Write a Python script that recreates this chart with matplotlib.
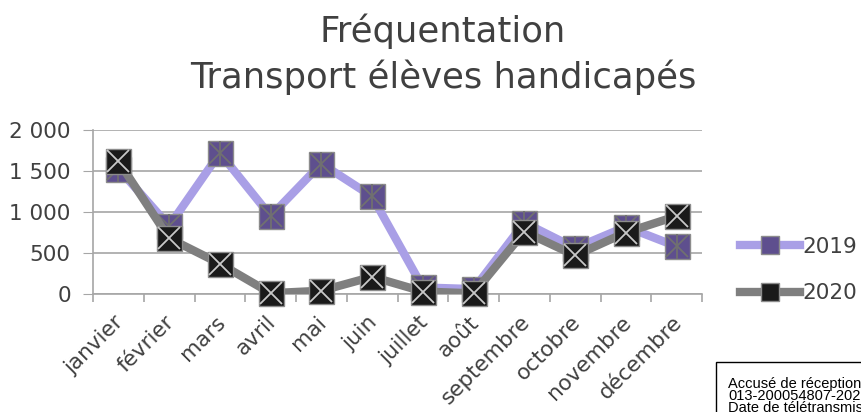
import matplotlib
matplotlib.use('Agg')
import matplotlib.pyplot as plt
import matplotlib.transforms as mtransforms
from matplotlib.lines import Line2D
from matplotlib.patches import Rectangle
import numpy as np

months = ['janvier', 'février', 'mars', 'avril', 'mai', 'juin', 'juillet',
          'août', 'septembre', 'octobre', 'novembre', 'décembre']
v2019 = [1530, 830, 1720, 950, 1590, 1190, 80, 60, 870, 560, 820, 580]
v2020 = [1620, 680, 370, 10, 40, 210, 30, 8, 760, 470, 750, 950]
yticks = [0, 500, 1000, 1500, 2000]
ylabels = ['0', '500', '1 000', '1 500', '2 000']
stamp_lines = ['Accusé de réception en préfecture',
               '013-200054807-20210000-DE',
               'Date de télétransmission']

plt.rcParams['font.family'] = ['DejaVu Sans']
txt = '#404040'
c19_line = '#A99FE6'
c19_mark = '#5E4F8E'
c20_line = '#7F7F7F'
c20_mark = '#1A1A1A'

fig = plt.figure(figsize=(8.61, 4.12), dpi=100)
ax = fig.add_axes([93/861, 1 - 294/412, 609/861, 164/412])

x = np.arange(len(months))


def draw_series(vals, lc, mc, cross_col, star, z):
    ax.plot(x, vals, color=lc, lw=6, solid_capstyle='round', zorder=z)
    ax.plot(x, vals, ls='none', marker='s', ms=18, mfc=mc, mec='#8C8C8C',
            mew=1, zorder=z + 0.1, clip_on=False)
    ax.plot(x, vals, ls='none', marker='x', ms=16, mec=cross_col, mew=1.3,
            zorder=z + 0.2, clip_on=False)
    if star:
        ax.plot(x, vals, ls='none', marker='|', ms=18, mec=cross_col, mew=1.3,
                zorder=z + 0.2, clip_on=False)


draw_series(v2019, c19_line, c19_mark, '#707070', True, 3)
draw_series(v2020, c20_line, c20_mark, '#C8C8C8', False, 4)

ax.set_xlim(-0.5, 11.5)
ax.set_ylim(0, 2000)
ax.set_yticks(yticks)
ax.set_yticklabels(ylabels)
ax.yaxis.grid(True, color='#A6A6A6', lw=1.2)
ax.set_axisbelow(True)
for s in ['top', 'right']:
    ax.spines[s].set_visible(False)
ax.spines['left'].set_color('#A6A6A6')
ax.spines['bottom'].set_color('#A6A6A6')
ax.spines['left'].set_linewidth(1.2)
ax.spines['bottom'].set_linewidth(1.2)
ax.tick_params(axis='y', length=7, color='#A6A6A6', labelsize=15.5,
               labelcolor=txt, pad=9)

ax.set_xticks(np.arange(-0.5, 12, 1), minor=True)
ax.set_xticks(x)
ax.set_xticklabels(months, rotation=45, ha='right', va='top',
                   rotation_mode='anchor', fontsize=15.5, color=txt)
ax.tick_params(axis='x', which='major', length=0, pad=13)
ax.tick_params(axis='x', which='minor', length=6, color='#A6A6A6', width=1.2)
shift = mtransforms.ScaledTranslation(-5/100, 0, fig.dpi_scale_trans)
for lab in ax.get_xticklabels():
    lab.set_transform(lab.get_transform() + shift)

# title, two lines placed by baseline
fig.text(443/861, 1 - 42/412, 'Fréquentation', ha='center', va='baseline',
         fontsize=25.5, color=txt)
fig.text(443/861, 1 - 88/412, 'Transport élèves handicapés', ha='center',
         va='baseline', fontsize=25.5, color=txt)

h19 = Line2D([], [], color=c19_line, lw=6, marker='s', ms=13, mfc=c19_mark,
             mec='#8C8C8C')
h20 = Line2D([], [], color=c20_line, lw=6, marker='s', ms=13, mfc=c20_mark,
             mec='#8C8C8C')
leg = fig.legend([h19, h20], ['2019', '2020'], loc='center left',
                 bbox_to_anchor=(740/861, 1 - 270/412), frameon=False,
                 fontsize=15.5, labelspacing=1.25, handlelength=2.8,
                 handletextpad=0.1, borderpad=0, borderaxespad=0,
                 labelcolor=txt)

# accuse de reception stamp, cut off by the figure edge like the reference
fig.patches.append(Rectangle((716/861, -0.1), 0.3, 0.1 + 1 - 362/412,
                             transform=fig.transFigure, fill=False,
                             ec='black', lw=1))
for i, line in enumerate(stamp_lines):
    fig.text(728/861, 1 - (388 + 12*i)/412, line, ha='left', va='baseline',
             fontsize=10.5, family='Liberation Sans', color='black')

fig.savefig('out.png', dpi=100)
